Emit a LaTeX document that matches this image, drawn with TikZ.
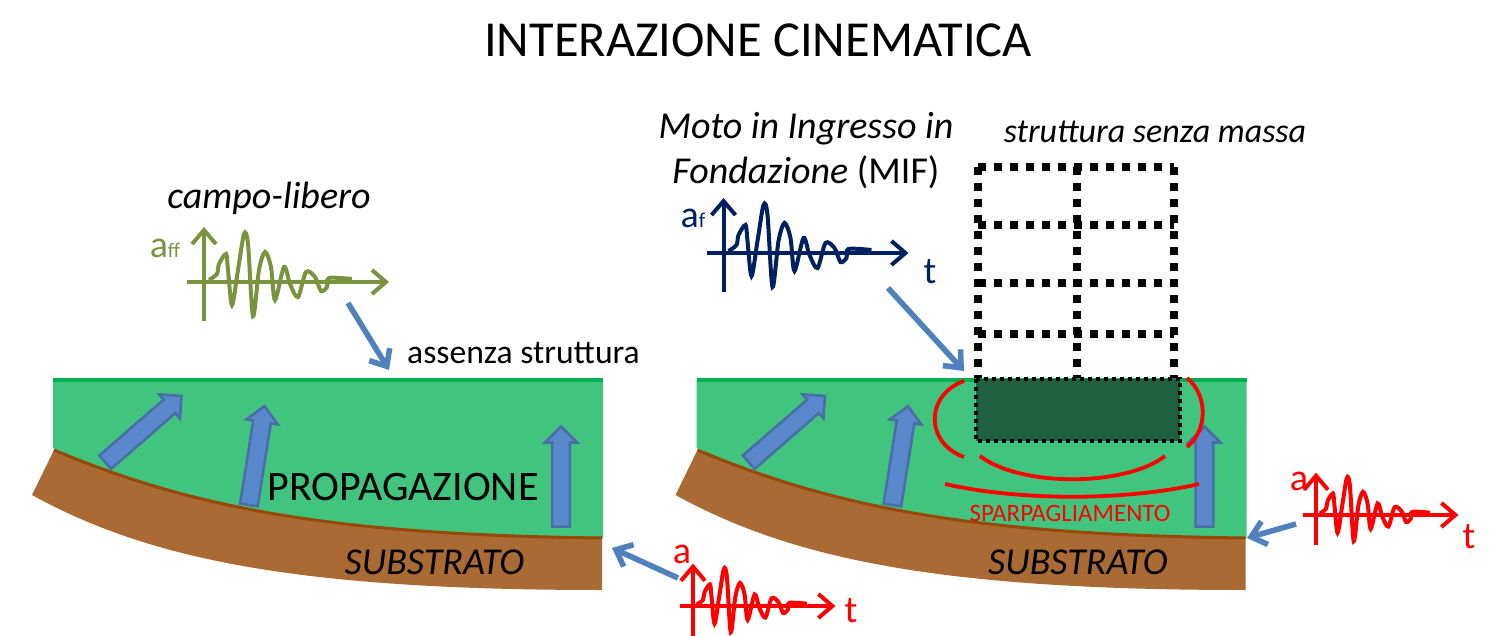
\documentclass[tikz,border=0pt]{standalone}
\usepackage{fontspec}
\setmainfont{Carlito}
\usetikzlibrary{arrows.meta,shapes.arrows}
\definecolor{prato}{HTML}{41C47E}
\definecolor{bordoprato}{HTML}{00B050}
\definecolor{suolo}{HTML}{A96A33}
\definecolor{bordosuolo}{HTML}{984807}
\definecolor{blu}{HTML}{5A88CC}
\definecolor{bordoblu}{HTML}{4A6FA8}
\definecolor{azzurro}{HTML}{4F81BD}
\definecolor{oliva}{HTML}{7A933E}
\definecolor{notte}{HTML}{002060}
\definecolor{scuro}{HTML}{1F6040}
\tikzset{>={Straight Barb[length=7pt,width=12pt]}}
\tikzset{
  raggio/.style={single arrow,draw=bordoblu,fill=blu,line width=1.3pt,minimum width=15pt,
    single arrow head extend=3.5pt,single arrow tip angle=90,inner sep=3.8pt},
  freccia/.style={->,azzurro,line width=2.8pt},
  telaio/.style={line width=4.4pt,dash pattern=on 4pt off 4pt},
  onda/.pic={
    \draw[->,line width=2pt] (-17,0) -- (185,0);
    \draw[->,line width=2pt] (0,39) -- (0,-55);
    \draw[line width=2pt] plot[smooth,tension=0.5] coordinates {(5,-2) (13,-8) (15,-18) (22,-28)
      (24,-12) (28,23) (34,-12) (40,-48) (44,-38) (49,34) (55,-12) (61,-30) (67,-15) (71,18)
      (80,-15) (86,2) (94,15) (102,-10) (111,-5) (117,9) (123,5) (125,-4) (148,-3)};
  },
  terreno/.pic={
    \fill[suolo] (54,450) -- (32,495) .. controls (150,560) and (300,590) .. (602,590) -- (602,538) -- cycle;
    \fill[prato] (53,380) -- (603,380) -- (603,538) .. controls (350,535) and (200,510) .. (53,448) -- cycle;
    \draw[bordosuolo,line width=1.5pt] (54,450) .. controls (200,512) and (350,535) .. (602,538);
    \draw[bordoprato,line width=2pt] (53,380) -- (603,380);
    \node[raggio,minimum height=50.5pt,rotate=41] (obliquo) at (140,432) {};
    \node[raggio,minimum height=50pt,rotate=81] (alto) at (256,460) {};
    \node[raggio,minimum height=50pt,rotate=90] (destro) at (561,481) {};
    \node[font=\fontsize{19}{23}\selectfont\itshape] (substrato) at (434.5,562) {SUBSTRATO};
  },
}
\begin{document}
\begin{tikzpicture}[x=0.5pt,y=-0.5pt]
\useasboundingbox (0,0) rectangle (1489,636);
\node[font=\fontsize{25.2}{30}\selectfont] (titolo) at (758,40) {INTERAZIONE CINEMATICA};

% terreno a sinistra e a destra
\pic (sx) at (0,0) {terreno};
\pic (dx) at (643.5,0) {terreno};
\node[font=\fontsize{21}{25}\selectfont] (propagazione) at (403,487) {PROPAGAZIONE};

% fondazione e struttura
\fill[scuro] (976,379) rectangle (1180,441);
\draw[line width=2pt,dash pattern=on 2pt off 2pt] (976,379) rectangle (1180,441);
\foreach \x in {978,1077,1174}
  \draw[telaio] (\x,167) -- (\x,378);
\foreach \y in {167,225,283,334}
  \draw[telaio] (978,\y) -- (1174,\y);

% onde diffratte
\draw[red,line width=1.9pt] (964,381) .. controls (925,395) and (925,443) .. (964,457);
\draw[red,line width=1.9pt] (1187,378) .. controls (1208,395) and (1208,430) .. (1187,447);
\draw[red,line width=1.9pt] (980,456) .. controls (1020,487) and (1125,487) .. (1165,456);
\draw[red,line width=1.9pt] (945,484) .. controls (1020,501) and (1125,501) .. (1199,484);
\node[red,font=\fontsize{12.5}{15}\selectfont] (sparpagliamento) at (1070,513) {SPARPAGLIAMENTO};

% accelerogrammi
\pic[color=oliva] (ondaff) at (204,282) {onda};
\pic[color=notte] (ondaf) at (723.5,253) {onda};
\pic[color=red,scale=.77] (ondabase) at (693,606) {onda};
\pic[color=red,scale=.77] (ondadx) at (1316,515) {onda};
\node[oliva,font=\fontsize{19}{22}\selectfont,inner sep=0pt] (aff) at (165,248) {a{\fontsize{10.5}{12}\selectfont ff}};
\node[notte,font=\fontsize{19}{22}\selectfont,inner sep=0pt] (af) at (693,218) {a{\fontsize{10.5}{12}\selectfont f}};
\node[notte,font=\fontsize{19}{22}\selectfont] (tf) at (930,272) {t};
\node[red,font=\fontsize{19}{22}\selectfont] (abase) at (682,554) {a};
\node[red,font=\fontsize{19}{22}\selectfont] (tbase) at (851,611) {t};
\node[red,font=\fontsize{19}{22}\selectfont] (adx) at (1299,481) {a};
\node[red,font=\fontsize{19}{22}\selectfont] (tdx) at (1469,537) {t};

% testi
\node[font=\fontsize{19}{22.5}\selectfont\itshape] (campo) at (269,198) {campo-libero};
\node[font=\fontsize{16.8}{20}\selectfont] (assenza) at (523.5,353) {assenza struttura};
\node[align=center,font=\fontsize{19}{22.5}\selectfont\itshape] (moto) at (806,151) {Moto in Ingresso in\\Fondazione {\upshape(MIF)}};
\node[font=\fontsize{17}{20}\selectfont\itshape] (massa) at (1155,132) {struttura senza massa};

% frecce
\coordinate (da) at (348,303);
\coordinate (a) at (389,370);
\coordinate (db) at (888,288);
\coordinate (b) at (964,371);
\coordinate (dc) at (678,578);
\coordinate (c) at (612,548);
\coordinate (dd) at (1296,524);
\coordinate (d) at (1247,538);
\draw[freccia] (da) -- (a);
\draw[freccia] (db) -- (b);
\draw[freccia] (dc) -- (c);
\draw[freccia] (dd) -- (d);
\end{tikzpicture}
\end{document}
